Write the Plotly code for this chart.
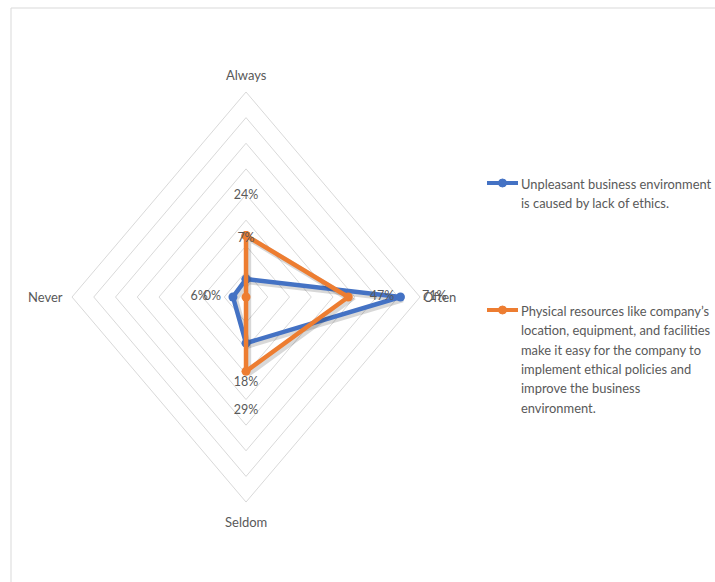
import plotly.graph_objects as go

# Radar categories, clockwise from the top
categories = ["Always", "Often", "Seldom", "Never"]

# Percent of respondents for each statement
unpleasant_env = [7, 71, 18, 6]
physical_resources = [24, 47, 29, 0]

series_labels = [
    ["Unpleasant business environment",
     "is caused by lack of ethics."],
    ["Physical resources like company\u2019s",
     "location, equipment, and facilities",
     "make it easy for the company to",
     "implement ethical policies and",
     "improve the business",
     "environment."],
]
series_colors = ["#4472C4", "#ED7D31"]

# Radial grid levels (percent)
grid_levels = [10, 20, 30, 40, 50, 60, 70, 80]

# Unit direction of each category spoke
spoke = {"Always": (0, 1), "Often": (1, 0), "Seldom": (0, -1), "Never": (-1, 0)}

W, H = 715, 582
FONT = "Lato, sans-serif"
GRAY = "#595959"


def radar_xy(values, pad=0.0, close=True):
    xs = [spoke[c][0] * (v + pad) for c, v in zip(categories, values)]
    ys = [spoke[c][1] * (v + pad) for c, v in zip(categories, values)]
    if close:
        xs.append(xs[0])
        ys.append(ys[0])
    return xs, ys


fig = go.Figure()

# Diamond gridlines
for lvl in grid_levels:
    gx, gy = radar_xy([lvl] * len(categories))
    fig.add_trace(go.Scatter(
        x=gx, y=gy, mode="lines",
        line=dict(color="#D9D9D9", width=1),
        hoverinfo="skip", showlegend=False,
    ))

all_series = [unpleasant_env, physical_resources]

# Data series, each with a soft drop shadow
for vals, lines, col in zip(all_series, series_labels, series_colors):
    sx, sy = radar_xy(vals)
    fig.add_trace(go.Scatter(
        x=[v + 1.0 for v in sx], y=[v - 0.9 for v in sy], mode="lines",
        line=dict(color="rgba(40,40,40,0.18)", width=6),
        hoverinfo="skip", showlegend=False,
    ))
    fig.add_trace(go.Scatter(
        x=sx, y=sy, mode="lines+markers", name=" ".join(lines),
        line=dict(color=col, width=4.5),
        marker=dict(color=col, size=9),
        hovertext=[f"{c}: {v}%" for c, v in zip(categories, vals)] + [""],
        hoverinfo="text", showlegend=False,
    ))

# Value labels, set slightly outside each point
for vals in all_series:
    lx, ly = radar_xy(vals, pad=15.5, close=False)
    fig.add_trace(go.Scatter(
        x=lx, y=ly, mode="text",
        text=[f"{v}%" for v in vals],
        textfont=dict(family=FONT, size=12.5, color=GRAY),
        hoverinfo="skip", showlegend=False,
    ))

# Category labels at the spoke ends
outer = grid_levels[-1]
label_pos = {
    "Always": dict(xanchor="center", yanchor="bottom", xshift=0, yshift=7),
    "Often": dict(xanchor="left", yanchor="middle", xshift=1, yshift=0),
    "Seldom": dict(xanchor="center", yanchor="top", xshift=0, yshift=-10),
    "Never": dict(xanchor="right", yanchor="middle", xshift=-7, yshift=0),
}
for c in categories:
    fig.add_annotation(
        x=spoke[c][0] * outer, y=spoke[c][1] * outer, text=c,
        showarrow=False, font=dict(family=FONT, size=13, color=GRAY),
        **label_pos[c],
    )

# Legend: key line with marker, then wrapped description lines
legend_top = [184, 311]
line_gap = 19.3
key_x0, key_x1, text_x = 487, 518, 519
for top, lines, col in zip(legend_top, series_labels, series_colors):
    ky = 1 - (top - 1) / H
    fig.add_shape(type="line", xref="paper", yref="paper",
                  x0=key_x0 / W, x1=key_x1 / W, y0=ky, y1=ky,
                  line=dict(color=col, width=4))
    cx = (key_x0 + key_x1) / 2
    fig.add_shape(type="circle", xref="paper", yref="paper",
                  x0=(cx - 4) / W, x1=(cx + 4) / W,
                  y0=ky - 4 / H, y1=ky + 4 / H,
                  fillcolor=col, line=dict(color=col, width=1))
    for j, txt in enumerate(lines):
        fig.add_annotation(
            xref="paper", yref="paper",
            x=text_x / W, y=1 - (top + j * line_gap) / H,
            xanchor="left", yanchor="middle", text=txt, showarrow=False,
            font=dict(family=FONT, size=12.9, color=GRAY),
        )

# Light chart-area frame
fig.add_shape(type="line", xref="paper", yref="paper",
              x0=11 / W, x1=1, y0=1 - 8 / H, y1=1 - 8 / H,
              line=dict(color="#D9D9D9", width=1))
fig.add_shape(type="line", xref="paper", yref="paper",
              x0=11 / W, x1=11 / W, y0=0, y1=1 - 8 / H,
              line=dict(color="#D9D9D9", width=1))

fig.update_layout(
    width=W, height=H,
    margin=dict(l=0, r=0, t=0, b=0, autoexpand=False),
    paper_bgcolor="white", plot_bgcolor="white",
    xaxis=dict(range=[-113.1, 215.6], visible=False, fixedrange=True),
    yaxis=dict(range=[-111.2, 115.9], visible=False, fixedrange=True),
    showlegend=False,
)

fig.write_html("out.html")
